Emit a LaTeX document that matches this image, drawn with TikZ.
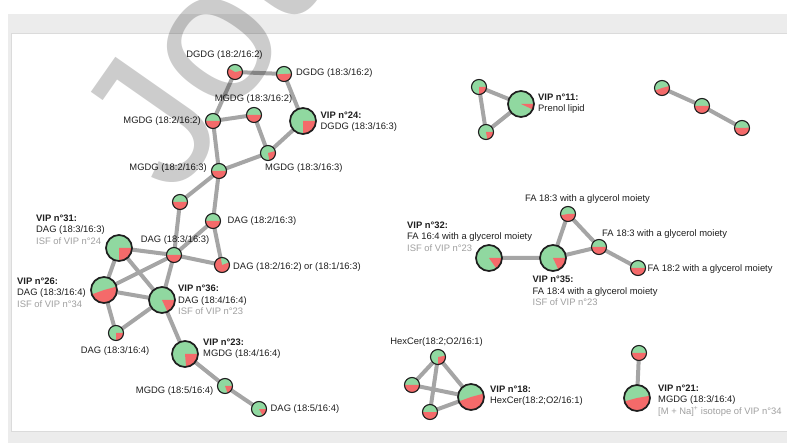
\documentclass[tikz,border=0pt]{standalone}
\usepackage{fontspec}
\setmainfont{Liberation Sans}
\usetikzlibrary{backgrounds}
\definecolor{pgreen}{RGB}{144,216,160}
\definecolor{pred}{RGB}{244,106,106}
\definecolor{edgegrey}{RGB}{165,165,165}
\definecolor{ringgrey}{RGB}{30,30,30}
\definecolor{isfgrey}{RGB}{160,160,160}
\definecolor{panelgrey}{RGB}{236,236,236}
\begin{document}
\begin{tikzpicture}[x=1pt,y=-1pt,line join=round,line cap=round,
  font=\fontsize{9.4}{11.6}\selectfont,
  lip/.style={circle,draw=ringgrey,line width=1.1pt,fill=pgreen,inner sep=0pt,minimum size=15pt},
  vip/.style={lip,line width=1.7pt,minimum size=26pt},
  share/.style 2 args={path picture={\fill[pred] (path picture bounding box.center) -- ++(#1:16pt) arc[start angle=#1,end angle=#2,radius=16pt] -- cycle;}},
  half/.style={share={180}{360}},
  link/.style={draw=edgegrey,line width=4pt},
  lbl/.style={inner sep=0pt,text=black!88},
  isf/.style={text=isfgrey},
  wm/.style={inner sep=0pt,anchor=base west,rotate=55,text=black,opacity=0.2,font=\fontsize{190}{190}\selectfont}]
\useasboundingbox (0,0) rectangle (787,443);
% left network
\node[lip,share={150}{370}] (d1) at (235,72) {};
\node[lip,share={183}{363}] (d2) at (284,74) {};
\node[lip,half] (m1) at (254,115) {};
\node[lip,half] (m2) at (213,121) {};
\node[vip,share={-90}{0}] (v24) at (303,121) {};
\node[lip,share={-80}{15}] (m3) at (268,153) {};
\node[lip,half] (m4) at (219,171) {};
\node[lip,half] (n1) at (180,202) {};
\node[lip,half] (a1) at (213,221) {};
\node[lip,half] (a2) at (174,255) {};
\node[lip,share={100}{380}] (a3) at (222,265) {};
\node[vip,share={-90}{0}] (v31) at (119,248) {};
\node[vip,share={200}{375}] (v26) at (104,290) {};
\node[vip,share={-65}{0}] (v36) at (162,300) {};
\node[lip,share={-90}{0}] (a4) at (116,333) {};
\node[vip,share={-85}{0}] (v23) at (185,354) {};
\node[lip,share={-70}{0}] (m5) at (225,386) {};
\node[lip,share={-60}{0}] (a5) at (259,409) {};
\node[lbl] (d1l) at (224.5,55) {DGDG (18:2/16:2)};
\node[lbl,anchor=west] (d2l) at (296,73) {DGDG (18:3/16:2)};
\node[lbl] (m1l) at (253.5,99) {MGDG (18:3/16:2)};
\node[lbl,anchor=east] (m2l) at (201,121) {MGDG (18:2/16:2)};
\node[lbl,anchor=north west,align=left] (v24l) at (320.5,111.5) {\textbf{VIP n°24:}\\DGDG (18:3/16:3)};
\node[lbl,anchor=west] (m3l) at (265,168) {MGDG (18:3/16:3)};
\node[lbl,anchor=east] (m4l) at (207,168) {MGDG (18:2/16:3)};
\node[lbl,anchor=west] (a1l) at (227.5,221.5) {DAG (18:2/16:3)};
\node[lbl] (a2l) at (175,240) {DAG (18:3/16:3)};
\node[lbl,anchor=west] (a3l) at (233,267.5) {DAG (18:2/16:2) or (18:1/16:3)};
\node[lbl,anchor=north west,align=left] (v31l) at (36,214.5) {\textbf{VIP n°31:}\\DAG (18:3/16:3)\\\textcolor{isfgrey}{ISF of VIP n°24}};
\node[lbl,anchor=north west,align=left] (v26l) at (17,277.5) {\textbf{VIP n°26:}\\DAG (18:3/16:4)\\\textcolor{isfgrey}{ISF of VIP n°34}};
\node[lbl,anchor=north west,align=left] (v36l) at (178,285) {\textbf{VIP n°36:}\\DAG (18:4/16:4)\\\textcolor{isfgrey}{ISF of VIP n°23}};
\node[lbl] (a4l) at (115,351) {DAG (18:3/16:4)};
\node[lbl,anchor=north west,align=left] (v23l) at (203,338.5) {\textbf{VIP n°23:}\\MGDG (18:4/16:4)};
\node[lbl,anchor=east] (m5l) at (213.5,391.5) {MGDG (18:5/16:4)};
\node[lbl,anchor=west] (a5l) at (270.5,409.5) {DAG (18:5/16:4)};
% prenol lipid and chain
\node[lip,share={-90}{0}] (p1) at (479,87) {};
\node[lip,share={-80}{0}] (p2) at (486,132) {};
\node[vip,share={-25}{0}] (v11) at (521,104) {};
\node[lbl,anchor=north west,align=left] (v11l) at (538,93.5) {\textbf{VIP n°11:}\\Prenol lipid};
\node[lip,share={200}{375}] (c1) at (662,88) {};
\node[lip,half] (c2) at (702,106) {};
\node[lip,share={177}{363}] (c3) at (742,128) {};
% glycerol moieties
\node[vip,share={-55}{0}] (v32) at (489,258) {};
\node[vip,share={-65}{0}] (v35) at (553,258) {};
\node[lip,share={190}{360}] (f1) at (568,214) {};
\node[lip,half] (f2) at (599,247) {};
\node[lip,half] (f3) at (638,268) {};
\node[lbl,anchor=north west,align=left] (v32l) at (407,221.5) {\textbf{VIP n°32:}\\FA 16:4 with a glycerol moiety\\\textcolor{isfgrey}{ISF of VIP n°23}};
\node[lbl,anchor=north west,align=left] (v35l) at (532.5,276) {\textbf{VIP n°35:}\\FA 18:4 with a glycerol moiety\\\textcolor{isfgrey}{ISF of VIP n°23}};
\node[lbl] (f1l) at (587.5,199) {FA 18:3 with a glycerol moiety};
\node[lbl,anchor=west] (f2l) at (602,234) {FA 18:3 with a glycerol moiety};
\node[lbl,anchor=west] (f3l) at (647.5,269) {FA 18:2 with a glycerol moiety};
% hexcer and mgdg
\node[lip,share={-90}{10}] (h1) at (438,357) {};
\node[lip,half] (h2) at (412,385) {};
\node[lip,half] (h3) at (430,412) {};
\node[vip,share={200}{375}] (v18) at (471,397) {};
\node[lbl,anchor=east] (h1l) at (483,342) {HexCer(18:2;O2/16:1)};
\node[lbl,anchor=north west,align=left] (v18l) at (490,385.5) {\textbf{VIP n°18:}\\HexCer(18:2;O2/16:1)};
\node[lip,half] (t1) at (639,353) {};
\node[vip,share={195}{370}] (v21) at (637,398) {};
\node[lbl,anchor=north west,align=left] (v21l) at (658,384.5) {\textbf{VIP n°21:}\\MGDG (18:3/16:4)\\\textcolor{isfgrey}{[M + Na]\textsuperscript{+} isotope of VIP n°34}};
\begin{scope}[on background layer]
\fill[panelgrey] (8,14) rectangle (787,443);
\filldraw[fill=white,draw=black!14,line width=1pt] (11,34) rectangle (792,431);
\draw[link] (d1.center)--(d2.center)--(v24.center)--(m3.center)--(m1.center)--(m2.center)--cycle;
\draw[link] (m2.center)--(m4.center)--(m3.center);
\draw[link] (m4.center)--(n1.center)--(a2.center)--(a1.center)--cycle;
\draw[link] (a1.center)--(a3.center)--(a2.center);
\draw[link] (a2.center)--(v31.center)--(v26.center)--(v36.center)--cycle;
\draw[link] (v26.center)--(a2.center) (v31.center)--(v36.center);
\draw[link] (v26.center)--(a4.center)--(v36.center)--(v23.center)--(m5.center)--(a5.center);
\draw[link] (p1.center)--(v11.center)--(p2.center)--cycle;
\draw[link] (c1.center)--(c2.center)--(c3.center);
\draw[link] (v32.center)--(v35.center)--(f1.center)--(f2.center)--(v35.center);
\draw[link] (f2.center)--(f3.center);
\draw[link] (h1.center)--(h2.center)--(v18.center)--(h3.center)--cycle;
\draw[link] (h1.center)--(v18.center);
\draw[link] (t1.center)--(v21.center);
\end{scope}
\node[wm] (jou) at (176,199) {Journal Pre-proof};
\end{tikzpicture}
\end{document}
